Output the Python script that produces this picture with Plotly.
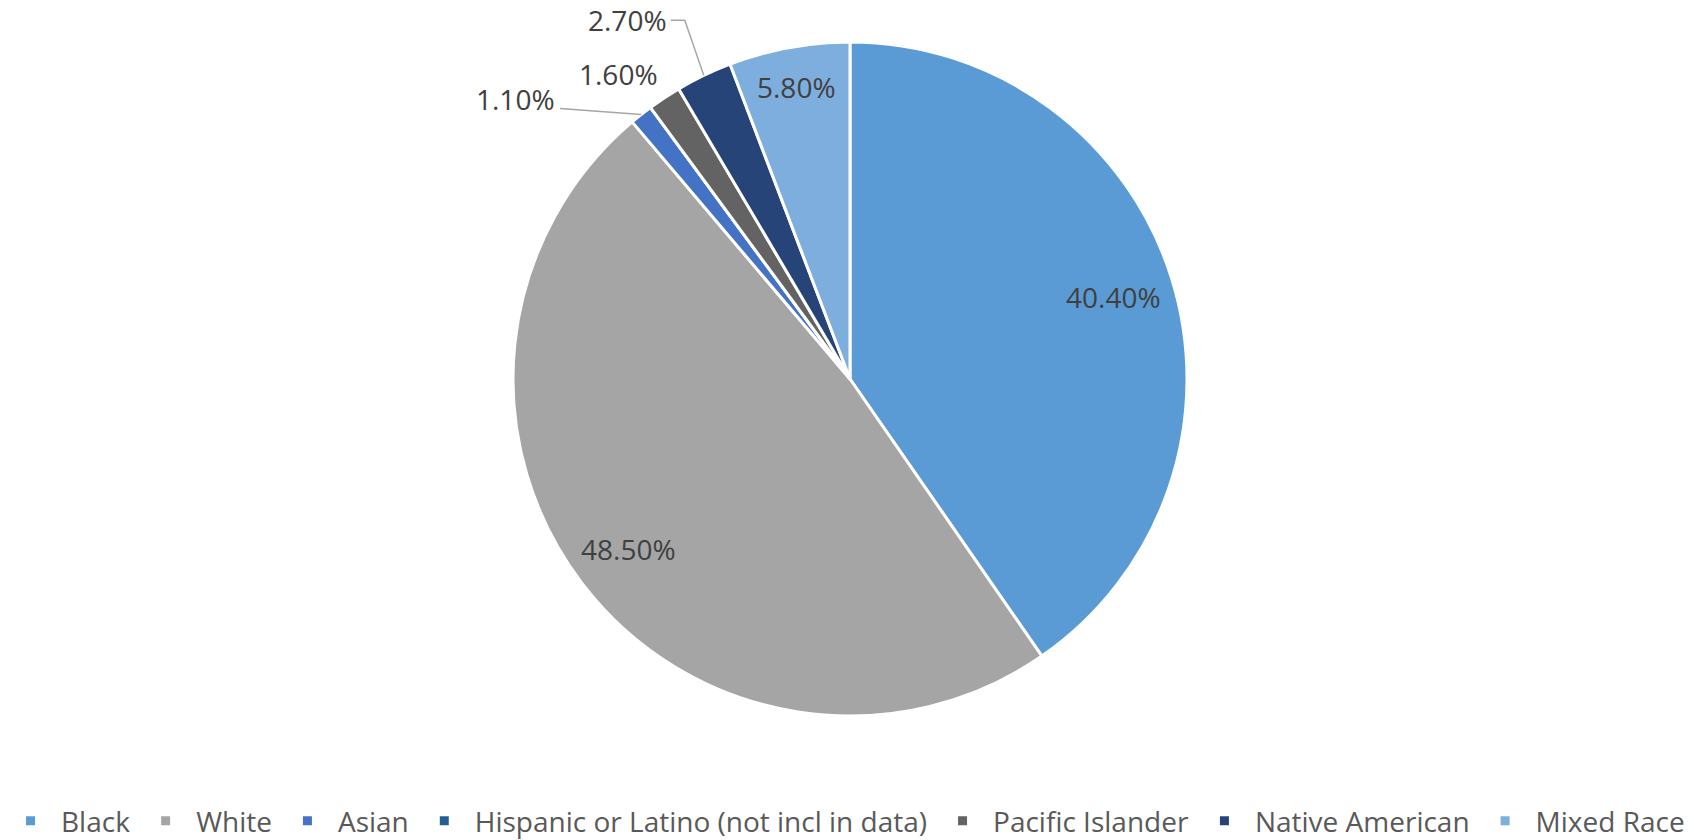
import math
import plotly.graph_objects as go

# Share of population by group (percent)
categories = [
    "Black",
    "White",
    "Asian",
    "Hispanic or Latino (not incl in data)",
    "Pacific Islander",
    "Native American",
    "Mixed Race",
]
shares = [40.4, 48.5, 1.1, 0.0, 1.6, 2.7, 5.8]

slice_colors = ["#5B9BD5", "#A5A5A5", "#4472C4", "#255E91", "#636363", "#264478", "#7EAEDE"]

W, H = 1706, 840
CX, CY, R = 850, 379, 337          # pie centre and radius in pixels
LABEL_FONT = dict(family="Open Sans", size=28, color="#404040")

# radial position (fraction of radius) of labels drawn inside slices
inside_rfac = {"Black": 0.82, "White": 0.83, "Mixed Race": 0.88}
# labels drawn outside: text offset from the slice's rim point, optional leader path
outside_spec = {
    "Asian": dict(text=(-84, -16), anchor="right", path=[(0, 0), (-81, -6)]),
    "Pacific Islander": dict(text=(-46, -24), anchor="center", path=None),
    "Native American": dict(text=(-35, -55), anchor="right", path=[(0, 0), (-19, -55), (-33, -55)]),
}


def px_to_paper(x, y):
    return x / W, 1 - y / H


fig = go.Figure(
    go.Pie(
        labels=categories,
        values=shares,
        sort=False,
        direction="clockwise",
        rotation=0,
        marker=dict(colors=slice_colors, line=dict(color="white", width=3)),
        textinfo="none",
        hoverinfo="label+percent",
        domain=dict(
            x=[(CX - R) / W, (CX + R) / W],
            y=[1 - (CY + R) / H, 1 - (CY - R) / H],
        ),
    )
)

total = sum(shares)
annotations, shapes = [], []
cum = 0.0
for name, v in zip(categories, shares):
    mid = (cum + v / 2) / total
    cum += v
    if v <= 0:
        continue
    ang = 2 * math.pi * mid
    sx, sy = math.sin(ang), -math.cos(ang)
    label = f"{v:.2f}%"
    if name in inside_rfac:
        rf = inside_rfac[name]
        x, y = px_to_paper(CX + rf * R * sx, CY + rf * R * sy)
        annotations.append(dict(x=x, y=y, xref="paper", yref="paper", text=label,
                                showarrow=False, font=LABEL_FONT,
                                xanchor="center", yanchor="middle"))
    elif name in outside_spec:
        spec = outside_spec[name]
        ex, ey = CX + R * sx, CY + R * sy
        tx, ty = px_to_paper(ex + spec["text"][0], ey + spec["text"][1])
        annotations.append(dict(x=tx, y=ty, xref="paper", yref="paper", text=label,
                                showarrow=False, font=LABEL_FONT,
                                xanchor=spec["anchor"], yanchor="middle"))
        if spec["path"]:
            pts = [px_to_paper(ex + dx, ey + dy) for dx, dy in spec["path"]]
            d = "M " + " L ".join(f"{px},{py}" for px, py in pts)
            shapes.append(dict(type="path", path=d, xref="paper", yref="paper",
                               line=dict(color="#A6A6A6", width=1.5)))

fig.update_layout(
    width=W,
    height=H,
    margin=dict(l=0, r=0, t=0, b=0, autoexpand=False),
    paper_bgcolor="white",
    plot_bgcolor="white",
    annotations=annotations,
    shapes=shapes,
    showlegend=True,
    legend=dict(
        orientation="h",
        x=0.0,
        xanchor="left",
        y=1 - 821 / H,
        yanchor="middle",
        itemwidth=51,
        font=dict(family="Open Sans", size=28, color="#595959"),
        bgcolor="rgba(0,0,0,0)",
        traceorder="normal",
    ),
)

fig.write_html("out.html")
